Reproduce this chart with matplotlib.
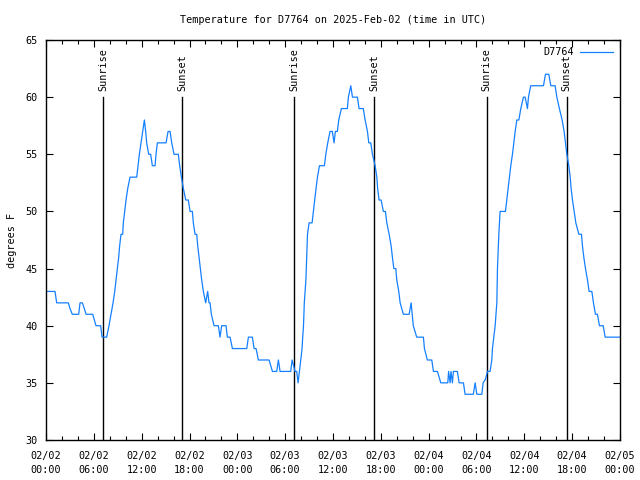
import matplotlib.pyplot as plt

# hours since 2025-02-02 00:00 UTC, temperature in degrees F
hours = [0.1, 1.13, 1.34, 2.8, 3.01, 3.3, 4.1, 4.27, 4.56, 4.81, 5.02, 5.86, 6.27, 6.86, 7.03, 7.61,
         7.9, 8.16, 8.41, 8.62, 8.78, 8.95, 9.12, 9.24, 9.41, 9.62, 9.7, 9.87, 10.04, 10.25, 10.54,
         11.38, 11.54, 11.71, 11.92, 12.13, 12.34, 12.5, 12.63, 12.88, 13.13, 13.34, 13.68, 13.8,
         13.97, 15.06, 15.31, 15.56, 15.77, 16.06, 16.6, 16.77, 16.98, 17.23, 17.53, 17.85, 18.07,
         18.36, 18.48, 18.7, 18.9, 19.03, 19.2, 19.36, 19.53, 19.74, 20.03, 20.28, 20.45, 20.58,
         20.74, 21.08, 21.62, 21.83, 22.04, 22.58, 22.75, 23.09, 23.38, 25.18, 25.39, 25.89, 26.1,
         26.35, 26.64, 27.98, 28.4, 28.94, 29.15, 29.36, 30.7, 30.87, 31.24, 31.45, 31.62, 31.79,
         31.96, 32.12, 32.2, 32.3, 32.4, 32.6, 32.7, 32.8, 33.0, 33.38, 33.54, 33.7, 33.88, 34.05,
         34.3, 34.92, 35.1, 35.34, 35.63, 35.92, 36.13, 36.3, 36.55, 36.72, 37.05, 37.8, 37.93,
         38.23, 38.44, 39.06, 39.27, 39.8, 40.03, 40.32, 40.49, 40.74, 40.95, 41.28, 41.5, 41.6,
         41.78, 42.03, 42.32, 42.57, 42.75, 43.04, 43.29, 43.45, 43.63, 43.88, 44.0, 44.25, 44.42,
         44.83, 45.55, 45.8, 46.07, 46.5, 47.34, 47.47, 47.84, 48.39, 48.6, 49.1, 49.52, 50.4,
         50.5, 50.69, 50.8, 50.98, 51.1, 51.6, 51.82, 52.36, 52.57, 53.6, 53.83, 54.04, 54.67,
         54.83, 55.12, 55.37, 55.7, 55.92, 56.0, 56.17, 56.34, 56.55, 56.63, 56.8, 56.96, 57.63,
         57.8, 57.97, 58.13, 58.3, 58.51, 58.68, 58.85, 59.06, 59.31, 59.56, 59.89, 60.1, 60.39,
         60.52, 60.8, 62.4, 62.65, 63.07, 63.32, 63.86, 64.08, 64.4, 64.74, 64.99, 65.16, 65.33,
         65.58, 65.75, 65.87, 66.04, 66.25, 66.46, 66.84, 67.17, 67.29, 67.46, 67.67, 67.92,
         68.13, 68.47, 68.67, 68.92, 69.17, 69.42, 69.89, 70.14, 72.0]
temps = [43, 43, 42, 42, 41.5, 41, 41, 42, 42, 41.5, 41, 41, 40, 40, 39, 39,
         40, 41, 42, 43, 44, 45, 46, 47, 48, 48, 49, 50, 51, 52, 53,
         53, 54, 55, 56, 57, 58, 57, 56, 55, 55, 54, 54, 55,
         56, 56, 57, 57, 56, 55, 55, 54, 53, 52, 51, 51, 50,
         50, 49, 48, 48, 47, 46, 45, 44, 43, 42, 43, 42, 42,
         41, 40, 40, 39, 40, 40, 39, 39, 38, 38, 39, 39, 38,
         38, 37, 37, 36, 36, 37, 36, 36, 37, 36, 36, 35, 36,
         37, 38, 39, 40, 42, 44, 46, 48, 49, 49, 50, 51, 52, 53,
         54, 54, 55, 56, 57, 57, 56, 57, 57, 58, 59, 59, 60,
         61, 60, 60, 59, 59, 58, 57, 56, 56, 55, 54, 53, 52,
         51, 51, 50, 50, 49, 48, 47, 46, 45, 45, 44, 43, 42,
         41, 41, 42, 40, 39, 39, 38, 37, 37, 36, 36, 35, 35,
         36, 35, 36, 35, 36, 36, 35, 35, 34, 34, 35, 34, 34,
         35, 35.3, 36, 36, 37, 38, 39, 40, 42, 45, 48, 50, 50,
         51, 52, 53, 54, 55, 56, 57, 58, 58, 59, 60, 60, 59,
         60, 61, 61, 62, 62, 61, 61, 60, 59, 58, 57, 56, 55,
         54, 53, 52, 51, 50, 49, 48, 48, 47, 46, 45, 44,
         43, 43, 42, 41, 41, 40, 40, 39, 39]

sunrise = [7.18, 31.15, 55.27]
sunset = [17.1, 41.18, 65.3]

tick_hours = [0, 6, 12, 18, 24, 30, 36, 42, 48, 54, 60, 66, 72]
tick_labels = ["02/02\n00:00", "02/02\n06:00", "02/02\n12:00", "02/02\n18:00",
               "02/03\n00:00", "02/03\n06:00", "02/03\n12:00", "02/03\n18:00",
               "02/04\n00:00", "02/04\n06:00", "02/04\n12:00", "02/04\n18:00",
               "02/05\n00:00"]

plt.rcParams['font.family'] = 'DejaVu Sans Mono'
plt.rcParams['font.size'] = 7.3

fig = plt.figure(figsize=(6.4, 4.8), dpi=100)
ax = fig.add_axes([46 / 640, 40 / 480, 574 / 640, 400 / 480])

# sunrise / sunset markers
for h in sunrise:
    ax.plot([h, h], [30, 60], color='black', lw=1.0)
    ax.text(h, 60.5, "Sunrise", rotation=90, ha='center', va='bottom')
for h in sunset:
    ax.plot([h, h], [30, 60], color='black', lw=1.0)
    ax.text(h, 60.5, "Sunset", rotation=90, ha='center', va='bottom')

ax.plot(hours, temps, color='#1580ff', lw=0.9, label='D7764')

ax.set_xlim(0, 72)
ax.set_ylim(30, 65)
ax.set_xticks(tick_hours)
ax.set_xticklabels(tick_labels, linespacing=1.45)
ax.set_xticks(range(0, 73, 2), minor=True)
ax.set_yticks(range(30, 66, 5))
ax.tick_params(which='both', direction='in', top=True, right=True, width=0.8)
ax.tick_params(which='major', length=5)
ax.tick_params(which='minor', length=3)
ax.tick_params(axis='x', pad=8)
ax.tick_params(axis='y', pad=6)
for s in ax.spines.values():
    s.set_linewidth(1.0)

ax.set_ylabel("degrees F", labelpad=6)
ax.set_title("Temperature for D7764 on 2025-Feb-02 (time in UTC)", fontsize=7.3, pad=12)

ax.legend(loc='upper right', frameon=False, handlelength=3.2, markerfirst=False,
          borderaxespad=0.3, handletextpad=0.6)

fig.savefig("out.png", dpi=100)
